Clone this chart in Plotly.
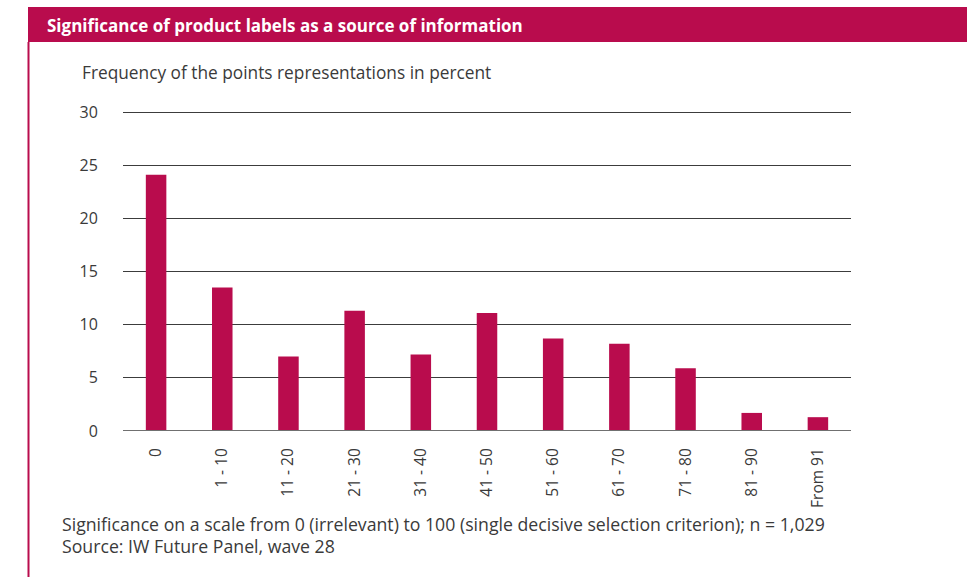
import plotly.graph_objects as go

categories = ["0", "1 - 10", "11 - 20", "21 - 30", "31 - 40", "41 - 50",
              "51 - 60", "61 - 70", "71 - 80", "81 - 90", "From 91"]
values = [24.1, 13.5, 7.0, 11.3, 7.2, 11.1, 8.7, 8.2, 5.9, 1.7, 1.3]
y_ticks = [0, 5, 10, 15, 20, 25, 30]

title_text = "Significance of product labels as a source of information"
y_title = "Frequency of the points representations in percent"
footer1 = "Significance on a scale from 0 (irrelevant) to 100 (single decisive selection criterion); n = 1,029"
footer2 = "Source: IW Future Panel, wave 28"

W, H = 967, 577
L, R, T, B = 123, 851, 106, 431
PW, PH = R - L, B - T
YMAX = 30 * PH / (B - 112)

def px(x):
    return (x - L) / PW

def py(y):
    return (B - y) / PH

crimson = "#B90C4D"
textc = "#3a3a3a"
font = "Open Sans"

fig = go.Figure()
fig.add_trace(go.Bar(x=categories, y=values, marker=dict(color=crimson, line=dict(width=0)),
                     width=0.31))

fig.update_layout(
    width=W, height=H,
    margin=dict(l=L, r=W - R, t=T, b=H - B, pad=0),
    paper_bgcolor="white", plot_bgcolor="white",
    showlegend=False,
    font=dict(family=font, color=textc, size=16),
    xaxis=dict(range=[-0.5, 10.5], tickangle=-90, showgrid=False, ticks="outside",
               ticklen=10, tickcolor="rgba(0,0,0,0)", tickfont=dict(size=15.5, color=textc),
               showline=False, zeroline=False),
    yaxis=dict(range=[0, YMAX], tickvals=y_ticks, showgrid=True, gridcolor="#3c3c3c",
               gridwidth=1.3, zeroline=False, showline=False, ticks="outside",
               ticklen=21, tickcolor="rgba(0,0,0,0)", tickfont=dict(size=16, color=textc)),
    shapes=[
        dict(type="rect", xref="paper", yref="paper", x0=px(28), x1=px(967), y0=py(42), y1=py(7),
             fillcolor=crimson, line=dict(width=0), layer="above"),
        dict(type="line", xref="paper", yref="paper", x0=px(28.5), x1=px(28.5), y0=py(577), y1=py(42),
             line=dict(color=crimson, width=2)),
        dict(type="line", xref="paper", yref="y", x0=0, x1=1, y0=0, y1=0,
             line=dict(color="#707070", width=2), layer="above"),
    ],
    annotations=[
        dict(text="<b>" + title_text + "</b>", xref="paper", yref="paper", x=px(45), y=py(25),
             xanchor="left", yanchor="middle", showarrow=False,
             font=dict(family=font, size=17, color="white")),
        dict(text=y_title, xref="paper", yref="paper", x=px(80), y=py(72),
             xanchor="left", yanchor="middle", showarrow=False, font=dict(size=17.3, color=textc)),
        dict(text=footer1, xref="paper", yref="paper", x=px(60), y=py(524),
             xanchor="left", yanchor="middle", showarrow=False, font=dict(size=17.7, color=textc)),
        dict(text=footer2, xref="paper", yref="paper", x=px(60), y=py(546),
             xanchor="left", yanchor="middle", showarrow=False, font=dict(size=17.7, color=textc)),
    ],
)

fig.write_html("out.html")
